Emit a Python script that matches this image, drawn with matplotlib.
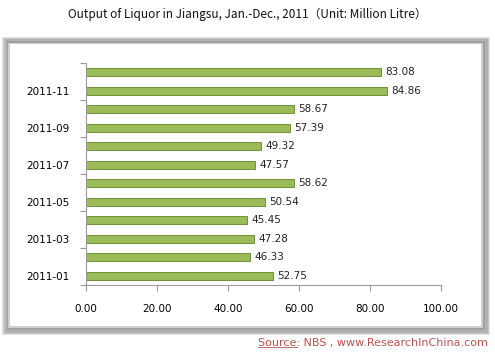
import matplotlib
matplotlib.use("Agg")
import matplotlib.pyplot as plt
from matplotlib.patches import Rectangle
from matplotlib.lines import Line2D

months = ["2011-01", "2011-02", "2011-03", "2011-04", "2011-05", "2011-06",
          "2011-07", "2011-08", "2011-09", "2011-10", "2011-11", "2011-12"]
output = [52.75, 46.33, 47.28, 45.45, 50.54, 58.62,
          47.57, 49.32, 57.39, 58.67, 84.86, 83.08]
xticks = [0, 20, 40, 60, 80, 100]

W, H = 495, 354
fig = plt.figure(figsize=(W / 100, H / 100), dpi=100)
fig.patch.set_facecolor("white")


def frame_box(left, top, right, bottom, color, z):
    # pixel box -> figure rectangle
    fig.add_artist(Rectangle((left / W, 1 - bottom / H), (right - left) / W, (bottom - top) / H,
                             transform=fig.transFigure, facecolor=color,
                             edgecolor="none", zorder=z))


# bevelled grey frame, built from nested boxes
frame_box(2, 37, 490, 335, "#e4e4e4", -20)
frame_box(3, 38, 489, 334, "#c8c8c8", -19)
frame_box(5, 39, 488, 333, "#b2b2b2", -18)
frame_box(7, 41, 485, 330, "#a0a0a0", -17)
frame_box(8, 43, 483, 328, "#cfcfcf", -16)
frame_box(10, 44, 481, 326, "white", -15)

ax = fig.add_axes([86 / W, 1 - 285 / H, 355 / W, 222 / H])
ax.set_zorder(5)
ax.patch.set_alpha(0)
ypos = list(range(len(months)))
ax.barh(ypos, output, height=0.43, color="#9bbb59", edgecolor="#71903a", linewidth=0.7)
for y, v in zip(ypos, output):
    ax.text(v + 1.2, y, "%.2f" % v, va="center", ha="left", fontsize=7.5, color="#222222")

ax.set_xlim(0, 100)
ax.set_ylim(-0.5, len(months) - 0.5)
ax.set_xticks(xticks)
ax.set_xticklabels(["%.2f" % t for t in xticks], fontsize=7.5)
ax.set_yticks([i - 0.5 for i in range(0, len(months) + 1, 2)])
ax.set_yticklabels([])
ax.set_yticks(ypos[::2], minor=True)
ax.set_yticklabels(months[::2], minor=True, fontsize=7.5)
ax.tick_params(axis="y", which="minor", length=0, pad=12)
ax.tick_params(axis="both", which="major", length=4, color="#9a9a9a")
ax.tick_params(axis="x", pad=10)
for s in ["top", "right"]:
    ax.spines[s].set_visible(False)
for s in ["left", "bottom"]:
    ax.spines[s].set_color("#9a9a9a")
    ax.spines[s].set_linewidth(0.8)

fig.text(0.5, 1 - 14 / H, "Output of Liquor in Jiangsu, Jan.-Dec., 2011\uff08Unit: Million Litre\uff09",
         ha="center", va="center", fontsize=8.5, color="#111111",
         family=["Noto Sans CJK SC", "DejaVu Sans"])

src = fig.text(488 / W, 1 - 343 / H, "Source: NBS , www.ResearchInChina.com",
               ha="right", va="center", fontsize=8, color="#c0504d")
fig.canvas.draw()
r = fig.canvas.get_renderer()
bb = src.get_window_extent(r)
tmp = fig.text(0, 0, "Source", fontsize=8)
sw = tmp.get_window_extent(r).width
tmp.remove()
fig.add_artist(Line2D([bb.x0 / W, (bb.x0 + sw) / W],
                      [(bb.y0 + 1) / H, (bb.y0 + 1) / H],
                      transform=fig.transFigure, color="#c0504d", linewidth=0.6))

fig.savefig("out.png", dpi=100)
